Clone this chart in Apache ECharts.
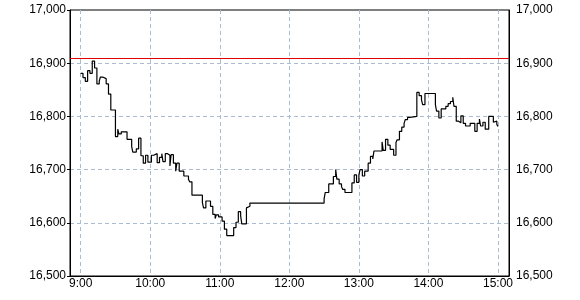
<!DOCTYPE html>
<html>
<head>
<meta charset="utf-8">
<script src="https://cdn.jsdelivr.net/npm/echarts@6/dist/echarts.min.js"></script>
<style>
html,body{margin:0;padding:0;background:#fff;}
#c{width:580px;height:300px;}
</style>
</head>
<body>
<div id="c"></div>
<script>
// Intraday prices (step line), time of each change and price
const times = [
  '9:00','9:02','9:04','9:06','9:08','9:10','9:12','9:14','9:16','9:17','9:19','9:22','9:24','9:26',
  '9:30','9:32','9:33','9:35','9:40','9:44','9:45','9:48','9:50','9:52','9:54','9:56','9:58',
  '10:01','10:03','10:06','10:08','10:10','10:11','10:13','10:15','10:17','10:18','10:20','10:22','10:23','10:25','10:29','10:33','10:34','10:36',
  '10:45','10:46','10:48','10:52','10:54','10:56','10:57','10:59','11:02','11:04','11:06','11:12','11:14','11:16','11:18','11:19','11:23','11:24','11:26',
  '12:30','12:31','12:34','12:38','12:40','12:41','12:43','12:45','12:46','12:48','12:54','12:56','12:58',
  '13:00','13:01','13:03','13:05','13:08','13:10','13:12','13:13','13:20','13:21','13:23','13:25','13:27','13:30','13:32','13:33','13:35','13:37','13:39','13:40','13:42','13:44','13:50','13:52','13:54','13:55','13:57',
  '14:06','14:07','14:09','14:11','14:15','14:17','14:19','14:21','14:22','14:24','14:26','14:28','14:30','14:32','14:36','14:40','14:42','14:44','14:45','14:47','14:49','14:52','14:56','14:57','14:59','15:00'
];
const prices = [
  16881,16873,16866,16886,16881,16904,16891,16861,16866,16874,16871,16861,16842,16812,
  16762,16776,16767,16771,16757,16743,16733,16739,16759,16726,16712,16727,16714,
  16727,16730,16713,16723,16730,16715,16730,16727,16707,16728,16712,16697,16712,16697,16688,16682,16677,16652,
  16638,16628,16641,16631,16616,16608,16615,16611,16603,16588,16576,16591,16601,16621,16613,16598,16628,16631,16637,
  16645,16657,16673,16687,16700,16682,16673,16668,16663,16657,16675,16690,16676,
  16690,16700,16688,16697,16712,16725,16720,16735,16752,16736,16757,16746,16738,16727,16751,16756,16772,16780,16787,16794,16798,16800,16845,16839,16831,16822,16843,
  16822,16810,16797,16814,16819,16824,16828,16836,16819,16791,16788,16801,16787,16782,16787,16772,16787,16795,16782,16789,16776,16800,16789,16791,16785,16781
];
const prevClose = 16910;
const hourLabels = ['9:00','10:00','11:00','12:00','13:00','14:00','15:00'];
const yTicks = [16500,16600,16700,16800,16900,17000];

function toMin(s){ const p = s.split(':'); return (+p[0])*60 + (+p[1]); }
function fmtTime(v){ const h = Math.floor(v/60), m = Math.round(v - h*60); return h + ':' + (m<10?'0':'') + m; }
const hourValues = hourLabels.map(toMin);
const seriesData = times.map((t,i)=>[toMin(t), prices[i]]);

const font = 'Liberation Sans, Arial, sans-serif';
const gridColor = '#aabcd4';

const chart = echarts.init(document.getElementById('c'), null, {renderer:'canvas'});
chart.setOption({
  animation:false,
  backgroundColor:'#fff',
  grid:{left:70, right:71, top:10, bottom:24, show:true, borderColor:'#000', borderWidth:1, backgroundColor:'transparent'},
  xAxis:{
    type:'value', min:530.8, max:909.5,
    axisLine:{show:true, lineStyle:{color:'#000', width:1}},
    axisTick:{show:false, customValues:hourValues},
    axisLabel:{customValues:hourValues, formatter:fmtTime, color:'#000', fontSize:12, fontFamily:font, margin:2},
    splitLine:{show:true, lineStyle:{color:gridColor, type:[4,3], width:1}}
  },
  yAxis:[
    {
      type:'value', min:yTicks[0], max:yTicks[yTicks.length-1], interval:100, position:'left',
      axisLine:{show:true, lineStyle:{color:'#000', width:1}},
      axisTick:{show:true, length:3, lineStyle:{color:'#000'}},
      axisLabel:{color:'#000', fontSize:12, fontFamily:font, margin:4, formatter:v=>v.toLocaleString('en-US')},
      splitLine:{show:true, showMinLine:false, showMaxLine:false, lineStyle:{color:gridColor, type:[4,3], width:1}}
    },
    {
      type:'value', min:yTicks[0], max:yTicks[yTicks.length-1], interval:100, position:'right',
      axisLine:{show:true, lineStyle:{color:'#000', width:1}},
      axisTick:{show:false},
      axisLabel:{color:'#000', fontSize:12, fontFamily:font, margin:7, formatter:v=>v.toLocaleString('en-US')},
      splitLine:{show:false}
    }
  ],
  series:[{
    type:'line', step:'end', data:seriesData, yAxisIndex:0,
    showSymbol:false, symbol:'none',
    lineStyle:{color:'#000', width:1.2},
    markLine:{
      silent:true, symbol:'none', label:{show:false},
      lineStyle:{color:'#e00000', type:'solid', width:1},
      data:[{yAxis:prevClose}]
    }
  }]
});
</script>
</body>
</html>
